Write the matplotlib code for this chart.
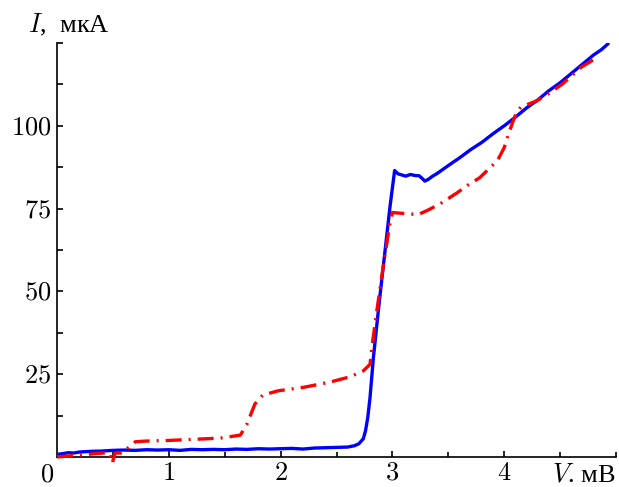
import matplotlib
matplotlib.use("Agg")
import matplotlib.pyplot as plt
from matplotlib.ticker import FixedLocator

plt.rcParams['mathtext.fontset'] = 'cm'
plt.rcParams['font.family'] = ['Liberation Serif', 'DejaVu Serif']

# Blue (solid) curve
blue_v = [0.0, 0.05, 0.1, 0.15, 0.2, 0.3, 0.4, 0.5, 0.6, 0.7, 0.8, 0.9, 1.0, 1.1, 1.2,
          1.3, 1.4, 1.5, 1.6, 1.7, 1.8, 1.9, 2.0, 2.1, 2.2, 2.3, 2.4, 2.5, 2.6, 2.66,
          2.7, 2.74, 2.76, 2.78, 2.8, 2.83, 2.88, 2.93, 2.98, 3.02, 3.05, 3.08, 3.12,
          3.16, 3.2, 3.24, 3.27, 3.29, 3.32, 3.36, 3.4, 3.5, 3.6, 3.7, 3.8, 3.9, 4.0,
          4.1, 4.2, 4.3, 4.4, 4.5, 4.6, 4.7, 4.8, 4.87, 4.93]
blue_i = [0.8, 1.0, 1.3, 1.2, 1.5, 1.7, 1.8, 2.0, 2.1, 2.0, 2.2, 2.1, 2.2, 2.0, 2.3,
          2.2, 2.3, 2.2, 2.4, 2.3, 2.5, 2.4, 2.5, 2.6, 2.4, 2.7, 2.8, 2.9, 3.0, 3.4,
          4.0, 5.5, 8.0, 12.0, 18.0, 30.0, 46.0, 61.0, 76.0, 86.5, 85.5, 85.2, 84.8,
          85.3, 85.0, 84.9, 84.0, 83.3, 83.8, 84.8, 85.6, 88.0, 90.3, 92.8, 95.0, 97.6, 100.0,
          102.6, 105.4, 107.8, 110.6, 113.0, 115.8, 118.6, 121.4, 123.0, 124.8]

# Red (dash-dot) curve
red_v = [0.0, 0.2, 0.41, 0.47, 0.495, 0.52, 0.58, 0.7, 0.79, 0.88, 1.0, 1.2, 1.46, 1.64,
         1.7, 1.77, 1.84, 1.98, 2.2, 2.44, 2.62, 2.74, 2.8, 2.82, 2.86, 2.92, 2.98,
         3.0, 3.23, 3.31, 3.43, 3.58, 3.67, 3.78, 3.94, 4.0, 4.04, 4.08, 4.11, 4.15,
         4.29, 4.41, 4.52, 4.62, 4.68, 4.81]
red_i = [0.0, 0.6, 1.2, 1.2, -1.8, 1.2, 1.2, 4.6, 4.8, 4.9, 5.0, 5.3, 5.7, 6.6,
         10.0, 16.0, 18.7, 20.0, 21.0, 22.6, 24.2, 26.0, 28.0, 34.0, 44.0, 58.0, 71.0,
         73.8, 73.2, 74.4, 76.5, 79.8, 82.0, 84.3, 89.5, 93.4, 97.6, 101.5, 104.0, 105.7,
         107.5, 110.0, 112.6, 115.6, 117.5, 120.2]

x_tick_labels = ['1', '2', '3', '4']
y_tick_labels = ['25', '50', '75', '100']

fig = plt.figure(figsize=(6.19, 4.87), dpi=100)
ax = fig.add_axes([57/619, 30/487, (616-57)/619, (457-43)/487])

ax.plot(blue_v, blue_i, color='#0000ff', lw=2.4, solid_joinstyle='round',
        solid_capstyle='round', zorder=3)
ax.plot(red_v, red_i, color='#ff0000', lw=2.4, dashes=(4.8, 2.1, 0.6, 2.1),
        dash_capstyle='butt', zorder=4, clip_on=False)

ax.set_xlim(0, 5)
ax.set_ylim(0, 125)

for s in ['top', 'right']:
    ax.spines[s].set_visible(False)
for s in ['left', 'bottom']:
    ax.spines[s].set_linewidth(1.2)

ax.xaxis.set_major_locator(FixedLocator([1, 2, 3, 4]))
ax.xaxis.set_minor_locator(FixedLocator([0.5, 1.5, 2.5, 3.5, 4.5, 5.0]))
ax.set_xticklabels(['$%s$' % t for t in x_tick_labels])
ax.yaxis.set_major_locator(FixedLocator([25, 50, 75, 100]))
ax.yaxis.set_minor_locator(FixedLocator([12.5, 37.5, 62.5, 87.5, 112.5, 125]))
ax.set_yticklabels(['$%s$' % t for t in y_tick_labels])

ax.tick_params(axis='both', which='major', direction='in', length=4.5, width=1.2,
               labelsize=19, pad=4)
ax.tick_params(axis='both', which='minor', direction='in', length=3.5, width=1.2)
ax.tick_params(axis='y', which='both', length=4.5)

ax.text(-0.09, -5.5, '$0$', fontsize=19, ha='center', va='center')
ax.text(-0.26, 130.3, '$I$,  мкА', fontsize=19, ha='left', va='center')
ax.text(4.995, -5.5, '$V$. мВ', fontsize=19, ha='right', va='center')

fig.savefig('out.png', dpi=100)
